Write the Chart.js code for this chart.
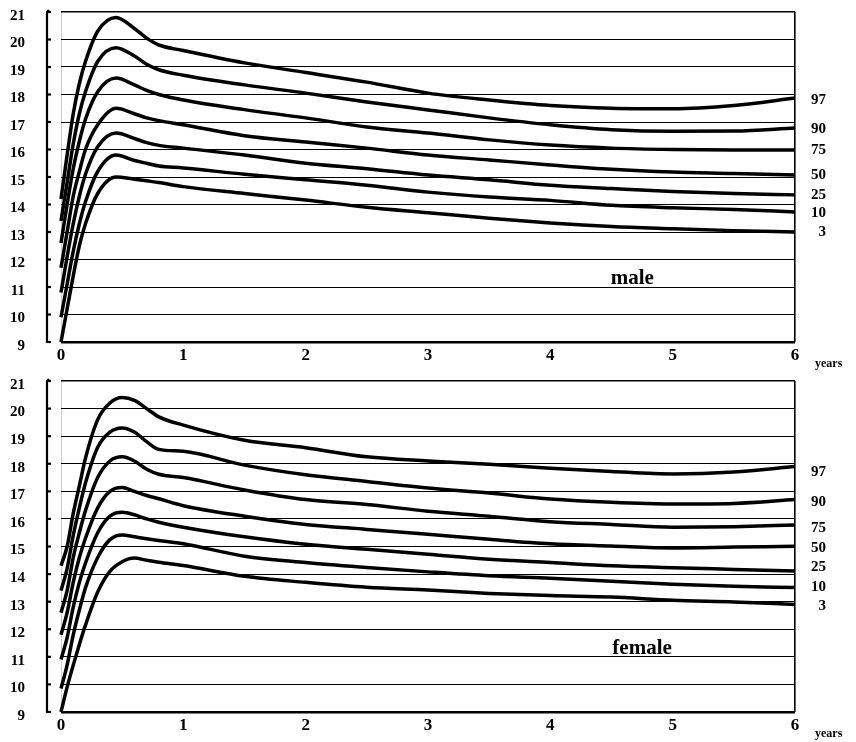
<!DOCTYPE html>
<html>
<head>
<meta charset="utf-8">
<script src="https://cdn.jsdelivr.net/npm/chart.js@4.4.1/dist/chart.umd.min.js"></script>
<style>
  body { margin: 0; background: #fff; }
  canvas { display: block; }
</style>
</head>
<body>
<canvas id="maleChart" width="856" height="372"></canvas>
<canvas id="femaleChart" width="856" height="370"></canvas>
<script>
// eta' in anni e percentili
const percentiles = ['97', '90', '75', '50', '25', '10', '3'];
const yTicks = [9, 10, 11, 12, 13, 14, 15, 16, 17, 18, 19, 20, 21];
const xTicks = [0, 1, 2, 3, 4, 5, 6];

const maleAge = [0, 0.05, 0.1, 0.15, 0.2, 0.3, 0.45, 0.6, 0.7, 0.8, 1, 1.5, 2, 2.5, 3, 3.5, 4, 4.5, 5, 5.5, 6];
const male97 = [14.2, 15.8, 17.3, 18.4, 19.2, 20.3, 20.8, 20.4, 20.05, 19.8, 19.6, 19.15, 18.8, 18.45, 18.05, 17.8, 17.6, 17.5, 17.48, 17.6, 17.87];
const male90 = [13.4, 14.8, 16.2, 17.3, 18.1, 19.2, 19.7, 19.4, 19.1, 18.9, 18.7, 18.35, 18.05, 17.73, 17.44, 17.15, 16.9, 16.72, 16.66, 16.67, 16.78];
const male75 = [12.6, 14.0, 15.3, 16.3, 17.1, 18.1, 18.6, 18.35, 18.15, 18.0, 17.8, 17.45, 17.15, 16.82, 16.6, 16.35, 16.16, 16.05, 16.0, 15.98, 15.98];
const male50 = [11.7, 13.0, 14.3, 15.2, 16.0, 16.9, 17.5, 17.3, 17.15, 17.05, 16.9, 16.5, 16.27, 16.05, 15.8, 15.62, 15.44, 15.28, 15.18, 15.13, 15.07];
const male25 = [10.8, 12.1, 13.3, 14.3, 15.1, 16.1, 16.6, 16.4, 16.25, 16.15, 16.05, 15.8, 15.5, 15.3, 15.07, 14.9, 14.7, 14.58, 14.47, 14.4, 14.35];
const male10 = [9.9, 11.1, 12.3, 13.3, 14.1, 15.2, 15.8, 15.6, 15.5, 15.4, 15.33, 15.1, 14.9, 14.7, 14.45, 14.27, 14.15, 13.97, 13.88, 13.82, 13.73];
const male3 = [9.0, 10.2, 11.4, 12.5, 13.3, 14.4, 15.0, 14.92, 14.86, 14.8, 14.65, 14.4, 14.16, 13.9, 13.7, 13.5, 13.33, 13.2, 13.12, 13.05, 13.0];

const femaleAge = [0, 0.05, 0.1, 0.15, 0.2, 0.3, 0.4, 0.5, 0.6, 0.7, 0.8, 1, 1.5, 2, 2.5, 3, 3.5, 4, 4.5, 5, 5.5, 6];
const female97 = [14.3, 15.0, 16.2, 17.2, 18.2, 19.6, 20.2, 20.4, 20.3, 20.0, 19.7, 19.4, 18.85, 18.58, 18.25, 18.1, 17.98, 17.84, 17.72, 17.63, 17.7, 17.9];
const female90 = [13.4, 14.2, 15.4, 16.4, 17.3, 18.6, 19.15, 19.3, 19.15, 18.8, 18.52, 18.45, 17.95, 17.6, 17.36, 17.12, 16.94, 16.72, 16.6, 16.54, 16.56, 16.7];
const female75 = [12.6, 13.4, 14.6, 15.5, 16.3, 17.5, 18.1, 18.25, 18.1, 17.8, 17.62, 17.5, 17.05, 16.7, 16.52, 16.28, 16.1, 15.9, 15.8, 15.7, 15.72, 15.78];
const female50 = [11.8, 12.6, 13.7, 14.6, 15.3, 16.4, 17.0, 17.14, 17.0, 16.85, 16.73, 16.48, 16.1, 15.8, 15.62, 15.44, 15.26, 15.1, 15.02, 14.95, 14.98, 15.01];
const female25 = [10.9, 11.7, 12.8, 13.7, 14.4, 15.5, 16.1, 16.24, 16.15, 16.0, 15.88, 15.7, 15.35, 15.08, 14.9, 14.72, 14.54, 14.42, 14.3, 14.23, 14.17, 14.11];
const female10 = [9.85, 10.7, 11.8, 12.7, 13.5, 14.6, 15.25, 15.42, 15.35, 15.28, 15.22, 15.1, 14.65, 14.42, 14.24, 14.08, 13.94, 13.85, 13.74, 13.63, 13.56, 13.51];
const female3 = [9.0, 9.9, 10.7, 11.45, 12.15, 13.35, 14.1, 14.45, 14.58, 14.5, 14.43, 14.31, 13.92, 13.7, 13.52, 13.42, 13.3, 13.22, 13.17, 13.05, 12.99, 12.9];

const serif = "'Liberation Serif', 'DejaVu Serif', serif";

function toPoints(ages, values) {
    return ages.map((a, i) => ({x: a, y: values[i]}));
}

// disegna asse sinistro staccato, etichette percentili, "years" e il nome del grafico
const decorations = {
    id: 'decorations',
    afterDraw(chart, args, opts) {
        const c = chart.ctx;
        const xs = chart.scales.x;
        const ys = chart.scales.y;
        const area = chart.chartArea;
        c.save();
        c.strokeStyle = '#000';
        c.fillStyle = '#000';

        // asse a sinistra
        const ax = area.left - 14;
        c.lineWidth = 2.2;
        c.beginPath();
        c.moveTo(ax + 2, ys.getPixelForValue(21) - 2);
        c.lineTo(ax, ys.getPixelForValue(21));
        c.lineTo(ax, ys.getPixelForValue(9));
        c.lineTo(ax + 3, ys.getPixelForValue(9));
        c.stroke();
        yTicks.forEach(v => {
            const py = ys.getPixelForValue(v);
            c.beginPath();
            c.moveTo(ax, py);
            c.lineTo(ax + 4, py);
            c.stroke();
        });

        // etichette dei percentili
        c.font = 'bold 15px ' + serif;
        c.textAlign = 'right';
        c.textBaseline = 'middle';
        chart.data.datasets.forEach((ds, i) => {
            const last = ds.data[ds.data.length - 1];
            c.fillText(percentiles[i], area.right + 31, ys.getPixelForValue(last.y) + opts.shift[i]);
        });

        // years
        c.font = 'bold 12px ' + serif;
        c.textAlign = 'left';
        c.textBaseline = 'alphabetic';
        c.fillText('years', area.right + 20, area.bottom + 25);

        // nome
        c.font = 'bold 21px ' + serif;
        c.textAlign = 'center';
        c.fillText(opts.title, xs.getPixelForValue(opts.titleX), ys.getPixelForValue(11.12));
        c.restore();
    }
};

function newChart(id, ages, series, topPad, title, titleX, shift) {
    const ctx = document.getElementById(id).getContext('2d');
    return new Chart(ctx, {
        type: 'line',
        data: {
            datasets: series.map((s, i) => ({
                label: percentiles[i],
                data: toPoints(ages, s),
                borderColor: '#000',
                borderWidth: 3.5,
                pointRadius: 0,
                fill: false,
                cubicInterpolationMode: 'monotone',
                clip: 4
            }))
        },
        options: {
            responsive: false,
            animation: false,
            layout: { padding: { top: topPad, right: 61, left: 0, bottom: 0 } },
            plugins: {
                legend: { display: false },
                tooltip: { enabled: false },
                decorations: { title: title, titleX: titleX, shift: shift }
            },
            scales: {
                x: {
                    type: 'linear',
                    min: 0,
                    max: 6,
                    afterFit: s => { s.height = 30; },
                    afterBuildTicks: s => { s.ticks = xTicks.map(v => ({value: v})); },
                    grid: {
                        drawTicks: false,
                        color: c => c.tick.value === 6 ? '#000' : (c.tick.value === 0 ? '#ccc' : 'rgba(0,0,0,0)'),
                        lineWidth: c => c.tick.value === 6 ? 1.6 : 1
                    },
                    border: { display: false },
                    ticks: {
                        padding: 3,
                        color: '#000',
                        font: { family: serif, size: 17, weight: 'bold' }
                    }
                },
                y: {
                    min: 9,
                    max: 21,
                    afterFit: s => { s.width = 61; },
                    afterBuildTicks: s => { s.ticks = yTicks.map(v => ({value: v})); },
                    grid: {
                        drawTicks: true,
                        tickLength: 36,
                        tickColor: 'rgba(0,0,0,0)',
                        color: '#000',
                        lineWidth: c => c.tick.value === 9 ? 2.4 : (c.tick.value === 21 ? 1.6 : 1)
                    },
                    border: { display: false },
                    ticks: {
                        padding: 0,
                        labelOffset: 4,
                        color: '#000',
                        font: { family: serif, size: 15, weight: 'bold' }
                    }
                }
            }
        },
        plugins: [decorations]
    });
}

newChart('maleChart', maleAge, [male97, male90, male75, male50, male25, male10, male3], 12, 'male', 4.67, [2, 1, 0, 0, 0, 1, 0]);
newChart('femaleChart', femaleAge, [female97, female90, female75, female50, female25, female10, female3], 8, 'female', 4.75, [6, 3, 3, 2, -4, 0, 2]);
</script>
</body>
</html>
